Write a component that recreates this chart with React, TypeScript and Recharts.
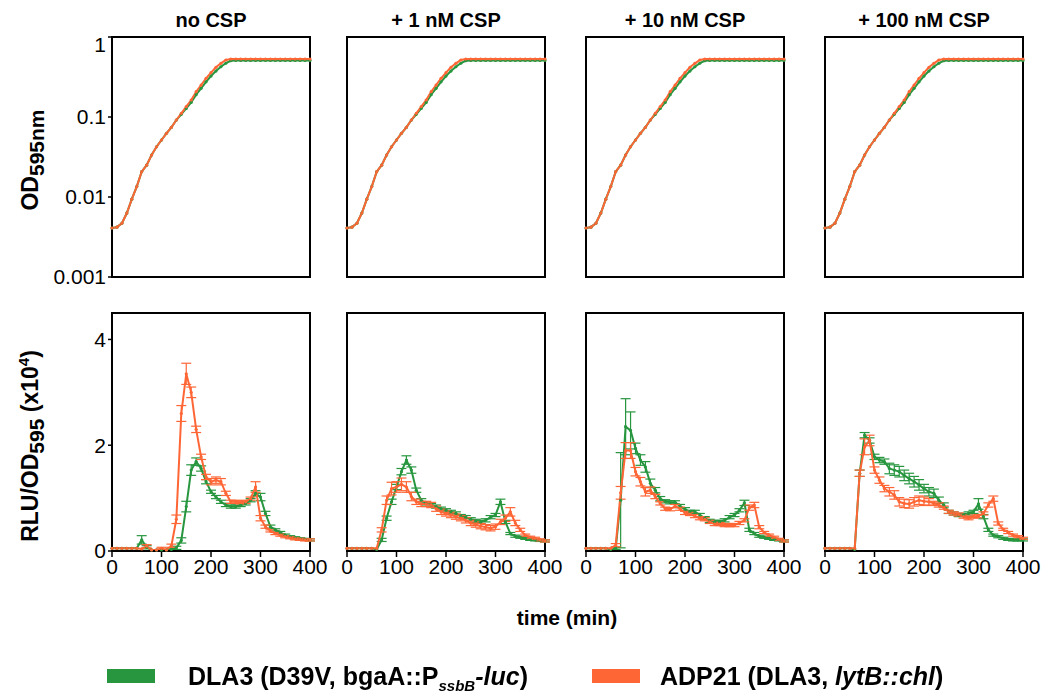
import React from 'react'
import { LineChart, Line, XAxis, YAxis, ErrorBar, ReferenceArea } from 'recharts'

// sampling times (min)
const time = [0, 10, 20, 30, 40, 50, 60, 70, 80, 90, 100, 110, 120, 130, 140, 150, 160, 170, 180, 190, 200,
  210, 220, 230, 240, 250, 260, 270, 280, 290, 300, 310, 320, 330, 340, 350, 360, 370, 380, 390, 400]

// OD595 growth curves (same in every panel)
const odGreen = [0.0041, 0.0042, 0.0047, 0.0063, 0.0094, 0.0135, 0.0207, 0.025, 0.0335, 0.0425, 0.0516, 0.0625,
  0.0743, 0.0917, 0.108, 0.128, 0.152, 0.19, 0.228, 0.275, 0.325, 0.375, 0.425, 0.47, 0.505, 0.51, 0.51, 0.51,
  0.51, 0.51, 0.51, 0.51, 0.51, 0.51, 0.51, 0.51, 0.51, 0.51, 0.51, 0.51, 0.51]
const odOrange = [0.0041, 0.0042, 0.0047, 0.0063, 0.0094, 0.0135, 0.0207, 0.025, 0.0335, 0.0425, 0.0516, 0.0625,
  0.0743, 0.0917, 0.111, 0.135, 0.163, 0.207, 0.251, 0.305, 0.358, 0.418, 0.469, 0.516, 0.531, 0.531, 0.531,
  0.531, 0.531, 0.531, 0.531, 0.531, 0.531, 0.531, 0.531, 0.531, 0.531, 0.531, 0.531, 0.531, 0.531]

// RLU/OD595 (x10^4), one pair per panel
const rluGreen1 = [0.05, 0.05, 0.05, 0.05, 0.05, 0.05, 0.21, 0.07, 0.02, 0.02, 0.02, 0.02, 0.03, 0.06, 0.2, 0.84,
  1.53, 1.69, 1.56, 1.31, 1.12, 1.02, 0.93, 0.87, 0.84, 0.84, 0.87, 0.9, 0.96, 1.09, 1.02, 0.71, 0.46, 0.4, 0.35,
  0.3, 0.27, 0.25, 0.23, 0.22, 0.21]
const rluOrange1 = [0.05, 0.05, 0.05, 0.05, 0.05, 0.05, 0.04, 0.09, 0.02, 0.02, 0.05, 0.02, 0.1, 0.6, 2.6, 3.35,
  3.0, 2.3, 1.78, 1.4, 1.31, 1.34, 1.31, 1.09, 0.93, 0.93, 0.92, 0.93, 0.99, 1.21, 0.62, 0.46, 0.38, 0.33, 0.3,
  0.27, 0.25, 0.23, 0.22, 0.21, 0.21]
const rluGreen2 = [0.05, 0.05, 0.05, 0.05, 0.05, 0.05, 0.03, 0.21, 0.62, 0.93, 1.21, 1.5, 1.72, 1.53, 1.15, 0.96,
  0.9, 0.87, 0.84, 0.8, 0.77, 0.74, 0.71, 0.66, 0.64, 0.6, 0.57, 0.55, 0.58, 0.64, 0.68, 0.93, 0.55, 0.33, 0.28,
  0.26, 0.24, 0.22, 0.21, 0.2, 0.19]
const rluOrange2 = [0.05, 0.05, 0.05, 0.05, 0.05, 0.05, 0.05, 0.4, 0.96, 1.18, 1.21, 1.26, 1.21, 1.03, 0.93, 0.89,
  0.89, 0.87, 0.8, 0.74, 0.71, 0.68, 0.65, 0.62, 0.58, 0.53, 0.5, 0.47, 0.45, 0.43, 0.46, 0.55, 0.62, 0.74, 0.53,
  0.4, 0.3, 0.26, 0.24, 0.21, 0.19]
const rluGreen3 = [0.05, 0.05, 0.05, 0.05, 0.05, 0.03, 0.05, 0.96, 2.35, 2.28, 1.94, 1.72, 1.59, 1.28, 1.15, 0.99,
  0.94, 0.92, 0.92, 0.85, 0.79, 0.74, 0.74, 0.68, 0.62, 0.57, 0.55, 0.55, 0.58, 0.64, 0.68, 0.77, 0.91, 0.4, 0.33,
  0.28, 0.26, 0.24, 0.22, 0.21, 0.19]
const rluOrange3 = [0.05, 0.05, 0.05, 0.05, 0.05, 0.05, 0.11, 1.1, 1.9, 1.9, 1.5, 1.31, 1.12, 1.15, 1.03, 0.9, 0.8,
  0.79, 0.85, 0.8, 0.72, 0.7, 0.66, 0.62, 0.6, 0.55, 0.51, 0.51, 0.49, 0.49, 0.49, 0.53, 0.58, 0.82, 0.87, 0.45,
  0.35, 0.3, 0.26, 0.22, 0.19]
const rluGreen4 = [0.05, 0.05, 0.05, 0.05, 0.05, 0.05, 0.03, 1.47, 2.19, 2.09, 1.78, 1.72, 1.69, 1.56, 1.53, 1.5,
  1.43, 1.37, 1.31, 1.25, 1.18, 1.12, 1.09, 0.96, 0.87, 0.74, 0.71, 0.68, 0.68, 0.71, 0.74, 0.89, 0.65, 0.4, 0.3,
  0.27, 0.24, 0.22, 0.21, 0.21, 0.21]
const rluOrange4 = [0.05, 0.05, 0.05, 0.05, 0.05, 0.05, 0.05, 1.47, 1.97, 2.09, 1.53, 1.34, 1.18, 1.12, 1.06, 0.93,
  0.9, 0.89, 0.93, 0.96, 0.94, 0.93, 0.9, 0.87, 0.82, 0.74, 0.71, 0.69, 0.65, 0.62, 0.65, 0.66, 0.71, 0.87, 0.99,
  0.52, 0.41, 0.35, 0.3, 0.27, 0.24]

// standard deviations for the RLU curves
const errGreen1 = [0, 0, 0, 0, 0, 0, 0.08, 0.03, 0, 0, 0, 0, 0.02, 0.03, 0.05, 0.1, 0.1, 0.07, 0.05, 0.04, 0.03,
  0.03, 0.03, 0.03, 0.03, 0.03, 0.03, 0.03, 0.03, 0.05, 0.07, 0.04, 0.03, 0.02, 0.02, 0.02, 0.02, 0.02, 0.02, 0.02, 0.02]
const errOrange1 = [0, 0, 0, 0, 0, 0, 0, 0.03, 0, 0, 0.02, 0, 0.03, 0.08, 0.15, 0.2, 0.1, 0.06, 0.05, 0.05, 0.06,
  0.06, 0.06, 0.04, 0.03, 0.03, 0.03, 0.03, 0.03, 0.1, 0.05, 0.03, 0.02, 0.02, 0.02, 0.02, 0.02, 0.02, 0.02, 0.02, 0.02]
const errGreen2 = [0, 0, 0, 0, 0, 0, 0, 0.03, 0.04, 0.05, 0.05, 0.06, 0.08, 0.06, 0.04, 0.03, 0.03, 0.03, 0.03, 0.03,
  0.03, 0.03, 0.03, 0.03, 0.03, 0.03, 0.03, 0.03, 0.03, 0.03, 0.03, 0.05, 0.03, 0.02, 0.02, 0.02, 0.02, 0.02, 0.02, 0.02, 0.02]
const errOrange2 = [0, 0, 0, 0, 0, 0, 0, 0.04, 0.08, 0.12, 0.1, 0.12, 0.1, 0.08, 0.05, 0.05, 0.05, 0.05, 0.05, 0.05,
  0.05, 0.05, 0.05, 0.05, 0.05, 0.05, 0.05, 0.05, 0.05, 0.05, 0.05, 0.05, 0.06, 0.08, 0.05, 0.03, 0.02, 0.02, 0.02, 0.02, 0.02]
const errGreen3 = [0, 0, 0, 0, 0, 0, 0.02, 0.9, 0.53, 0.35, 0.1, 0.1, 0.1, 0.08, 0.05, 0.04, 0.03, 0.03, 0.03, 0.03,
  0.03, 0.03, 0.03, 0.03, 0.03, 0.03, 0.03, 0.03, 0.03, 0.03, 0.03, 0.03, 0.05, 0.03, 0.02, 0.02, 0.02, 0.02, 0.02, 0.02, 0.02]
const errOrange3 = [0, 0, 0, 0, 0, 0, 0.03, 0.12, 0.15, 0.15, 0.08, 0.08, 0.08, 0.06, 0.04, 0.03, 0.03, 0.03, 0.03,
  0.03, 0.03, 0.03, 0.03, 0.03, 0.03, 0.03, 0.03, 0.03, 0.03, 0.03, 0.03, 0.03, 0.03, 0.05, 0.05, 0.03, 0.02, 0.02, 0.02, 0.02, 0.02]
const errGreen4 = [0, 0, 0, 0, 0, 0, 0, 0.06, 0.05, 0.05, 0.05, 0.05, 0.05, 0.1, 0.1, 0.1, 0.1, 0.1, 0.1, 0.1, 0.08,
  0.08, 0.08, 0.06, 0.04, 0.03, 0.03, 0.03, 0.03, 0.03, 0.03, 0.1, 0.04, 0.03, 0.02, 0.02, 0.02, 0.02, 0.02, 0.02, 0.02]
const errOrange4 = [0, 0, 0, 0, 0, 0, 0, 0.06, 0.15, 0.1, 0.06, 0.06, 0.06, 0.08, 0.08, 0.08, 0.08, 0.08, 0.08, 0.08,
  0.08, 0.06, 0.04, 0.04, 0.03, 0.03, 0.03, 0.03, 0.03, 0.03, 0.03, 0.03, 0.03, 0.04, 0.05, 0.03, 0.02, 0.02, 0.02, 0.02, 0.02]

const titles = ['no CSP', '+ 1 nM CSP', '+ 10 nM CSP', '+ 100 nM CSP']
const timeTicks = [0, 100, 200, 300, 400]
const odTicks = [0.001, 0.01, 0.1, 1]
const rluTicks = [0, 2, 4]

const rluG = [rluGreen1, rluGreen2, rluGreen3, rluGreen4]
const rluO = [rluOrange1, rluOrange2, rluOrange3, rluOrange4]
const errG = [errGreen1, errGreen2, errGreen3, errGreen4]
const errO = [errOrange1, errOrange2, errOrange3, errOrange4]

const GREEN = '#27963f'
const ORANGE = '#ff6636'
const FONT = '"Liberation Sans", Arial, sans-serif'

const plotLefts = [112, 347, 586, 825]
const PLOT_W = 198

const odRows = time.map((t, i) => ({ t, g: odGreen[i], o: odOrange[i] }))
const rluRows = [0, 1, 2, 3].map(p =>
  time.map((t, i) => ({ t, g: rluG[p][i], o: rluO[p][i], ge: errG[p][i], oe: errO[p][i] }))
)

const axisStroke = { stroke: '#000', strokeWidth: 2 }
const tickStroke = { stroke: '#000', strokeWidth: 1.5 }
const tickFont = { fill: '#000', fontSize: 21, fontFamily: FONT }

function Panel({ col, bottom }: { col: number; bottom: boolean }) {
  const leftW = col === 0 ? 100 : 12
  const rightM = 24
  const plotTop = bottom ? 313 : 37
  const plotH = bottom ? 238 : 240
  const xH = bottom ? 40 : 10
  const w = leftW + PLOT_W + 5 + rightM
  const h = plotH + xH + 10
  const data = bottom ? rluRows[col] : odRows
  const yTop = bottom ? 4.5 : 1
  const yBottom = bottom ? 0 : 0.001
  return (
    <div style={{ position: 'absolute', left: plotLefts[col] - leftW - 5, top: plotTop - 5 }}>
      <LineChart width={w} height={h} data={data} margin={{ top: 5, right: rightM, bottom: 5, left: 5 }}>
        <XAxis
          dataKey="t"
          type="number"
          domain={[0, 400]}
          ticks={timeTicks}
          height={xH}
          tick={bottom ? tickFont : false}
          tickSize={6}
          tickMargin={2}
          axisLine={axisStroke}
          tickLine={tickStroke}
        />
        {bottom ? (
          <YAxis type="number" domain={[0, 4.5]} ticks={rluTicks} width={leftW} tickSize={4}
            tick={col === 0 ? tickFont : false} axisLine={axisStroke} tickLine={tickStroke} />
        ) : (
          <YAxis type="number" scale="log" domain={[0.001, 1]} ticks={odTicks} allowDataOverflow width={leftW}
            tickSize={4} tickFormatter={(v: number) => String(v)}
            tick={col === 0 ? tickFont : false} axisLine={axisStroke} tickLine={tickStroke} />
        )}
        <ReferenceArea x1={0} x2={400} y1={yBottom} y2={yTop} fill="none" fillOpacity={0}
          stroke="#000" strokeWidth={2} ifOverflow="visible" />
        <Line dataKey="g" stroke={GREEN} strokeWidth={2} isAnimationActive={false}
          dot={{ r: 1.6, fill: GREEN, stroke: GREEN, strokeWidth: 0 }}>
          {bottom && <ErrorBar dataKey="ge" direction="y" width={5} strokeWidth={1.2} stroke={GREEN} />}
        </Line>
        <Line dataKey="o" stroke={ORANGE} strokeWidth={2} isAnimationActive={false}
          dot={{ r: 1.6, fill: ORANGE, stroke: ORANGE, strokeWidth: 0 }}>
          {bottom && <ErrorBar dataKey="oe" direction="y" width={5} strokeWidth={1.2} stroke={ORANGE} />}
        </Line>
      </LineChart>
    </div>
  )
}

const legendText = { position: 'absolute' as const, top: 661, fontSize: 25, fontWeight: 'bold' as const,
  lineHeight: '30px', whiteSpace: 'nowrap' as const }

export default function App() {
  return (
    <div style={{ position: 'fixed', left: 0, top: 0, width: 1050, height: 696, background: '#fff', fontFamily: FONT }}>
      {titles.map((t, i) => (
        <div key={t} style={{ position: 'absolute', left: plotLefts[i], width: PLOT_W, top: 8, textAlign: 'center',
          fontSize: 20, fontWeight: 'bold', lineHeight: '24px' }}>{t}</div>
      ))}
      {[0, 1, 2, 3].map(c => <Panel key={'od' + c} col={c} bottom={false} />)}
      {[0, 1, 2, 3].map(c => <Panel key={'rlu' + c} col={c} bottom={true} />)}
      <svg width={70} height={600} style={{ position: 'absolute', left: 0, top: 0 }}>
        <text transform="translate(38,160) rotate(-90)" textAnchor="middle" fontFamily={FONT} fontWeight="bold" fontSize={23}>
          OD<tspan dy={6} fontSize={21}>595nm</tspan>
        </text>
        <text transform="translate(38,446) rotate(-90)" textAnchor="middle" fontFamily={FONT} fontWeight="bold" fontSize={23}>
          RLU/OD<tspan dy={6} fontSize={21}>595</tspan><tspan dy={-6}> (x10</tspan><tspan dy={-9} fontSize={15}>4</tspan><tspan dy={9}>)</tspan>
        </text>
      </svg>
      <div style={{ position: 'absolute', left: 467, width: 200, top: 605, textAlign: 'center', fontSize: 21,
        fontWeight: 'bold', lineHeight: '26px' }}>time (min)</div>
      <div style={{ position: 'absolute', left: 107, top: 669, width: 48, height: 14, background: GREEN }} />
      <div style={{ ...legendText, left: 188 }}>
        DLA3 (D39V, bgaA::P<sub style={{ fontSize: 15, fontStyle: 'italic' }}>ssbB</sub><i>-luc</i>)
      </div>
      <div style={{ position: 'absolute', left: 592, top: 669, width: 48, height: 14, background: ORANGE }} />
      <div style={{ ...legendText, left: 660 }}>
        ADP21 (DLA3, <i>lytB::chl</i>)
      </div>
    </div>
  )
}
